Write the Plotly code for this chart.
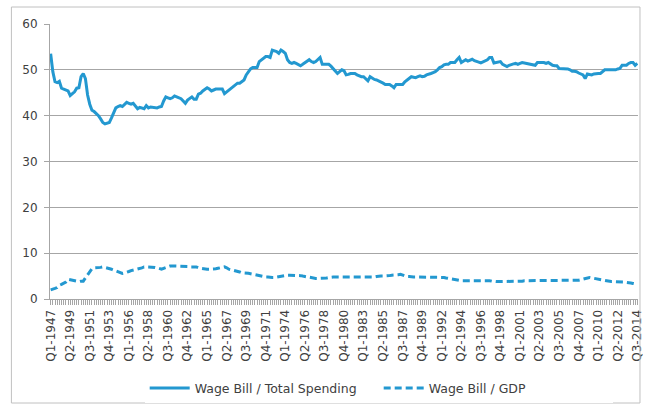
import plotly.graph_objects as go

# quarterly categories Q1-1947 .. Q3-2014
quarters = [f"Q{q}-{y}" for y in range(1947, 2015) for q in range(1, 5)][:271]

wage_total_spending = [
    53.5, 49.6, 47.4, 47.2,   # 1947
    47.5, 46.0, 45.8, 45.6,   # 1948
    45.4, 44.4, 44.8, 45.2,   # 1949
    46.0, 46.1, 48.5, 49.2,   # 1950
    48.1, 44.5, 42.5, 41.2,   # 1951
    40.9, 40.5, 40.0, 39.3,   # 1952
    38.5, 38.2, 38.3, 38.5,   # 1953
    39.5, 40.8, 41.7, 42.0,   # 1954
    42.2, 42.0, 42.5, 42.9,   # 1955
    42.7, 42.5, 42.7, 42.0,   # 1956
    41.5, 41.8, 41.6, 41.5,   # 1957
    42.2, 41.7, 41.9, 41.8,   # 1958
    41.8, 41.7, 41.9, 42.0,   # 1959
    43.2, 44.1, 43.9, 43.7,   # 1960
    43.9, 44.3, 44.1, 43.9,   # 1961
    43.7, 43.2, 42.7, 43.4,   # 1962
    43.8, 44.1, 43.6, 43.6,   # 1963
    44.7, 44.9, 45.4, 45.8,   # 1964
    46.1, 45.8, 45.4, 45.6,   # 1965
    45.8, 45.8, 45.8, 45.8,   # 1966
    44.8, 45.2, 45.6, 46.0,   # 1967
    46.3, 46.7, 47.1, 47.1,   # 1968
    47.5, 47.8, 48.9, 49.6,   # 1969
    50.2, 50.5, 50.5, 50.5,   # 1970
    51.8, 52.2, 52.7, 52.9,   # 1971
    52.9, 52.7, 54.3, 54.1,   # 1972
    54.0, 53.6, 54.3, 54.0,   # 1973
    53.6, 52.2, 51.6, 51.4,   # 1974
    51.6, 51.4, 51.2, 50.9,   # 1975
    51.2, 51.6, 51.8, 52.2,   # 1976
    51.8, 51.6, 51.8, 52.2,   # 1977
    52.7, 51.2, 51.2, 51.2,   # 1978
    51.2, 50.8, 50.2, 49.7,   # 1979
    49.2, 49.6, 50.0, 49.8,   # 1980
    48.9, 49.0, 49.2, 49.2,   # 1981
    49.2, 48.9, 48.7, 48.5,   # 1982
    48.5, 48.0, 47.6, 48.5,   # 1983
    48.2, 47.9, 47.8, 47.6,   # 1984
    47.4, 47.1, 46.8, 46.8,   # 1985
    46.8, 46.5, 46.1, 46.8,   # 1986
    46.8, 46.8, 46.8, 47.4,   # 1987
    47.8, 48.3, 48.5, 48.4,   # 1988
    48.3, 48.5, 48.7, 48.5,   # 1989
    48.6, 48.9, 49.0, 49.2,   # 1990
    49.4, 49.6, 50.0, 50.5,   # 1991
    50.7, 51.1, 51.2, 51.2,   # 1992
    51.6, 51.6, 51.6, 52.2,   # 1993
    52.7, 51.6, 51.9, 52.2,   # 1994
    51.9, 52.1, 52.3, 52.0,   # 1995
    51.9, 51.7, 51.5, 51.7,   # 1996
    51.9, 52.2, 52.7, 52.7,   # 1997
    51.5, 51.6, 51.7, 51.8,   # 1998
    51.2, 51.0, 50.7, 51.0,   # 1999
    51.2, 51.3, 51.4, 51.2,   # 2000
    51.4, 51.6, 51.5, 51.4,   # 2001
    51.3, 51.2, 51.1, 51.0,   # 2002
    51.6, 51.6, 51.6, 51.6,   # 2003
    51.4, 51.6, 51.3, 51.0,   # 2004
    50.9, 50.9, 50.3, 50.3,   # 2005
    50.2, 50.2, 50.2, 50.0,   # 2006
    49.7, 49.7, 49.6, 49.3,   # 2007
    49.1, 48.9, 48.1, 49.1,   # 2008
    49.0, 48.9, 49.1, 49.2,   # 2009
    49.2, 49.2, 49.6, 50.0,   # 2010
    50.0, 50.0, 50.0, 50.0,   # 2011
    50.0, 50.2, 50.3, 51.0,   # 2012
    51.0, 51.0, 51.4, 51.6,   # 2013
    51.6, 51.0, 51.4,         # 2014
]

wage_gdp = [
    2.0, 2.1, 2.3, 2.5,   # 1947
    3.0, 3.2, 3.5, 3.7,   # 1948
    4.3, 4.2, 4.0, 3.9,   # 1949
    3.8, 3.8, 3.9, 3.9,   # 1950
    4.6, 5.3, 6.0, 6.6,   # 1951
    6.8, 6.8, 6.8, 6.9,   # 1952
    7.0, 6.9, 6.7, 6.6,   # 1953
    6.5, 6.3, 6.1, 6.0,   # 1954
    5.8, 5.6, 5.7, 5.8,   # 1955
    6.0, 6.2, 6.3, 6.4,   # 1956
    6.5, 6.7, 6.8, 7.0,   # 1957
    7.0, 7.0, 7.0, 6.9,   # 1958
    6.9, 6.8, 6.6, 6.5,   # 1959
    6.7, 6.9, 7.0, 7.2,   # 1960
    7.2, 7.2, 7.2, 7.2,   # 1961
    7.2, 7.2, 7.2, 7.1,   # 1962
    7.0, 7.0, 7.0, 7.0,   # 1963
    6.8, 6.7, 6.6, 6.5,   # 1964
    6.5, 6.5, 6.5, 6.5,   # 1965
    6.6, 6.7, 6.8, 6.9,   # 1966
    7.0, 6.8, 6.5, 6.4,   # 1967
    6.3, 6.2, 6.0, 5.9,   # 1968
    5.7, 5.7, 5.6, 5.6,   # 1969
    5.5, 5.4, 5.3, 5.2,   # 1970
    5.0, 5.0, 4.9, 4.8,   # 1971
    4.8, 4.7, 4.7, 4.7,   # 1972
    4.8, 4.8, 4.9, 5.0,   # 1973
    5.1, 5.2, 5.2, 5.2,   # 1974
    5.2, 5.2, 5.2, 5.1,   # 1975
    5.0, 4.9, 4.8, 4.7,   # 1976
    4.6, 4.5, 4.5, 4.5,   # 1977
    4.5, 4.5, 4.5, 4.6,   # 1978
    4.7, 4.8, 4.8, 4.8,   # 1979
    4.8, 4.8, 4.8, 4.8,   # 1980
    4.7, 4.7, 4.7, 4.7,   # 1981
    4.7, 4.7, 4.7, 4.7,   # 1982
    4.7, 4.7, 4.7, 4.8,   # 1983
    4.8, 4.8, 4.9, 5.0,   # 1984
    5.0, 5.0, 5.0, 5.0,   # 1985
    5.1, 5.2, 5.2, 5.3,   # 1986
    5.3, 5.4, 5.2, 5.0,   # 1987
    4.9, 4.9, 4.8, 4.8,   # 1988
    4.8, 4.8, 4.8, 4.8,   # 1989
    4.8, 4.8, 4.8, 4.8,   # 1990
    4.8, 4.8, 4.8, 4.8,   # 1991
    4.8, 4.7, 4.6, 4.5,   # 1992
    4.4, 4.4, 4.3, 4.2,   # 1993
    4.1, 4.0, 4.0, 4.0,   # 1994
    4.0, 4.0, 4.1, 4.1,   # 1995
    4.1, 4.1, 4.1, 4.0,   # 1996
    4.0, 4.0, 4.0, 3.9,   # 1997
    3.8, 3.8, 3.8, 3.8,   # 1998
    3.8, 3.8, 3.8, 3.8,   # 1999
    3.8, 3.8, 3.8, 3.8,   # 2000
    3.9, 3.9, 4.0, 4.0,   # 2001
    4.0, 4.0, 4.0, 4.0,   # 2002
    4.1, 4.1, 4.1, 4.1,   # 2003
    4.1, 4.0, 4.0, 4.0,   # 2004
    4.0, 4.0, 4.0, 4.0,   # 2005
    4.0, 4.0, 4.0, 4.1,   # 2006
    4.1, 4.1, 4.1, 4.1,   # 2007
    4.2, 4.3, 4.4, 4.6,   # 2008
    4.7, 4.6, 4.5, 4.4,   # 2009
    4.3, 4.2, 4.1, 4.0,   # 2010
    3.9, 3.8, 3.8, 3.8,   # 2011
    3.8, 3.8, 3.8, 3.7,   # 2012
    3.7, 3.6, 3.6, 3.5,   # 2013
    3.4, 3.3, 3.2,        # 2014
]

series_names = ["Wage Bill / Total Spending", "Wage Bill / GDP"]
y_ticks = [0, 10, 20, 30, 40, 50, 60]
label_every = 9
tick_labels = [q if i % label_every == 0 else "" for i, q in enumerate(quarters)]

BLUE = "#2398d0"
GRID = "#a6a6a6"
TEXT = "#404040"
FONT = "DejaVu Sans"

fig = go.Figure()
fig.add_trace(go.Scatter(x=quarters, y=wage_total_spending, mode="lines",
                         name=series_names[0],
                         line=dict(color=BLUE, width=3)))
fig.add_trace(go.Scatter(x=quarters, y=wage_gdp, mode="lines",
                         name=series_names[1],
                         line=dict(color=BLUE, width=3, dash="7px,4px")))

W, H = 648, 407
L, R, T, B = 50, 4, 24, 108
pw, ph = W - L - R, H - T - B
# chart outer border (pixel -> paper)
bx0, bx1, by0, by1 = 11, 646, 7, 403
fig.add_shape(type="rect", xref="paper", yref="paper",
              x0=(bx0 - L) / pw, x1=(bx1 - L) / pw,
              y0=(H - B - by1) / ph, y1=(H - B - by0) / ph,
              line=dict(color="#c0c0c0", width=1), fillcolor="rgba(0,0,0,0)")

fig.update_layout(
    width=W, height=H,
    margin=dict(l=L, r=R, t=T, b=B),
    paper_bgcolor="white", plot_bgcolor="white",
    font=dict(family=FONT, color=TEXT, size=11),
    showlegend=True,
    legend=dict(orientation="h", x=0.559, xanchor="center", y=-0.27, yanchor="top",
                font=dict(size=12.5, color=TEXT), itemwidth=40,
                entrywidth=179, tracegroupgap=0),
)
fig.update_xaxes(
    type="category",
    range=[-0.3, 270.3],
    tickmode="array", tickvals=quarters, ticktext=tick_labels,
    tickangle=-90, ticks="outside", ticklen=5, tickcolor=GRID, tickwidth=1,
    showgrid=False, showline=True, linecolor=GRID, linewidth=1,
    tickfont=dict(size=12, color=TEXT),
)
fig.update_yaxes(
    range=[0, 60], tickvals=y_ticks,
    ticks="outside", ticklen=5, tickcolor=GRID,
    showgrid=True, gridcolor=GRID, gridwidth=1,
    showline=True, linecolor=GRID, linewidth=1, zeroline=False,
    tickfont=dict(size=12, color=TEXT), ticklabelstandoff=4,
)

fig.write_html("out.html", config={"displayModeBar": False},
               post_script="document.body.style.margin='0';document.body.style.padding='0';")
